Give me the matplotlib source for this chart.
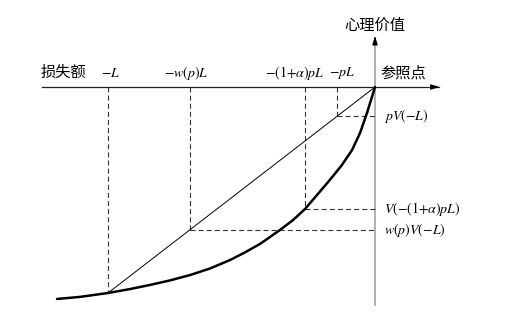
# 前景理论：损失额与心理价值示意图
import numpy as np
import matplotlib.pyplot as plt

plt.rcParams['font.family'] = ['Noto Sans CJK SC', 'DejaVu Sans']
plt.rcParams['mathtext.fontset'] = 'stix'

# 损失额（以 L 为单位）与心理价值（以 |V(-L)| 为单位）
curve_x = [-1.191, -1.105, -1.000, -0.918, -0.843, -0.768, -0.693, -0.618,
           -0.543, -0.487, -0.431, -0.393, -0.356, -0.307, -0.262,
           -0.217, -0.169, -0.124, -0.086, -0.056, -0.030, 0.0]
curve_y = [-1.029, -1.019, -1.000, -0.981, -0.961, -0.939, -0.913, -0.881,
           -0.840, -0.803, -0.762, -0.728, -0.694, -0.646, -0.592,
           -0.524, -0.451, -0.379, -0.306, -0.223, -0.126, 0.0]

p = 0.142
alpha = 0.845
w_p = 0.693
V_L = -1.0
V_apL = -0.592

# x-axis marks and their labels
x_marks = [-1.0, -w_p, -(1 + alpha) * p, -p]
x_labels = [r'$-L$', r'$-w(p)L$', r'$-(1{+}\alpha)pL$', r'$-pL$']
x_label_pos = [-0.99, -0.705, -0.30, -0.125]
# y values of the dashed guides
y_marks = [p * V_L, V_apL, w_p * V_L]
y_labels = [r'$pV(-L)$', r'$V(-(1{+}\alpha)pL)$', r'$w(p)V(-L)$']

fig = plt.figure(figsize=(5.1, 3.2), dpi=100)
ax = fig.add_axes([0, 0, 1, 1])
ax.set_xlim(-1.4045, 0.5056)
ax.set_ylim(-1.1311, 0.4223)
ax.axis('off')

# axes
ax.plot([-1.247, 0.24], [0, 0], color='#222222', lw=0.9)
ax.annotate('', xy=(0.253, 0), xytext=(0.2, 0),
            arrowprops=dict(arrowstyle='-|>,head_length=0.5,head_width=0.15',
                            color='black', lw=0.9))
ax.plot([0, 0], [-1.058, 0.24], color='#aaaaaa', lw=1.3)
ax.annotate('', xy=(0, 0.262), xytext=(0, 0.2),
            arrowprops=dict(arrowstyle='-|>,head_length=0.5,head_width=0.15',
                            color='black', lw=0.9))

# dashed guides
dash = dict(color='#333333', lw=0.8, dashes=(4.5, 2.8))
ax.plot([-1.0, -1.0], [0, V_L], **dash)
ax.plot([-w_p, -w_p], [0, w_p * V_L], **dash)
ax.plot([-w_p, 0], [w_p * V_L, w_p * V_L], **dash)
ax.plot([x_marks[2], x_marks[2]], [0, V_apL], **dash)
ax.plot([x_marks[2], 0], [V_apL, V_apL], **dash)
ax.plot([-p, -p], [0, p * V_L], **dash)
ax.plot([-p, 0], [p * V_L, p * V_L], **dash)

# chord and value curve
ax.plot([-1.0, 0], [V_L, 0], color='black', lw=0.7)
ax.plot(curve_x, curve_y, color='black', lw=1.8, solid_capstyle='round',
        solid_joinstyle='round')

# labels
for xp, lab in zip(x_label_pos, x_labels):
    ax.text(xp, 0.07, lab, ha='center', va='center', fontsize=10)
for yv, lab in zip(y_marks, y_labels):
    ax.text(0.035, yv, lab, ha='left', va='center', fontsize=10)

ax.text(-1.165, 0.07, '损失额', ha='center', va='center', fontsize=11)
ax.text(0.02, 0.07, '参照点', ha='left', va='center', fontsize=11)
ax.text(0.0, 0.30, '心理价值', ha='center', va='center', fontsize=11)

fig.savefig('out.png', dpi=100)
